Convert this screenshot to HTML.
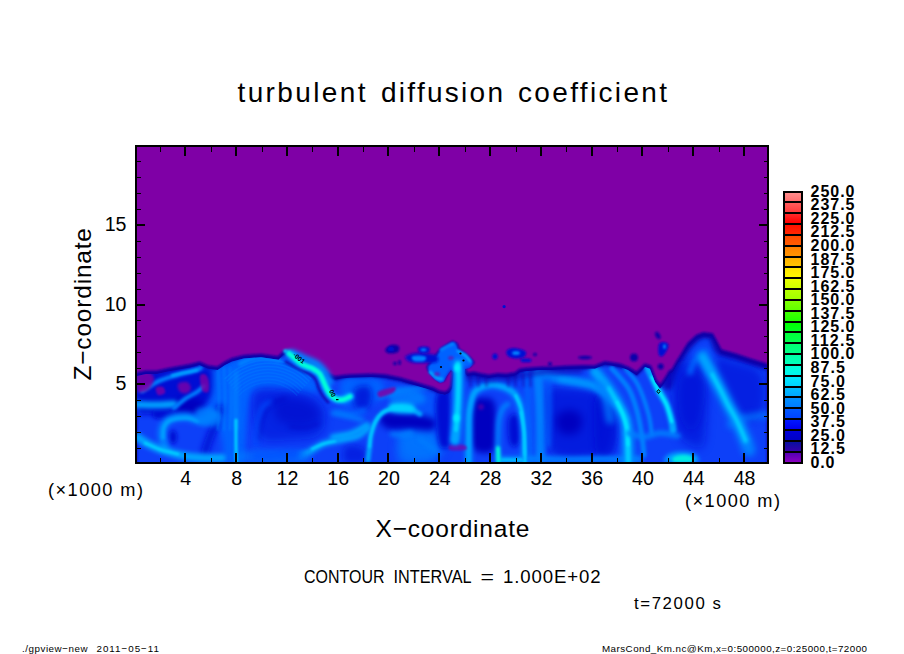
<!DOCTYPE html><html><head><meta charset="utf-8"><style>html,body{margin:0;padding:0;background:#fff;}svg{display:block}text{font-family:"Liberation Sans",sans-serif;fill:#000}</style></head><body>
<svg width="904" height="654" viewBox="0 0 904 654">
<rect x="0" y="0" width="904" height="654" fill="#fff"/>
<rect x="137" y="147" width="630" height="315" fill="#7f00a6"/>
<g id="turb">
<defs>
<filter id="b0_6" filterUnits="userSpaceOnUse" x="0" y="0" width="904" height="654"><feGaussianBlur stdDeviation="0.6"/></filter>
<filter id="b0_7" filterUnits="userSpaceOnUse" x="0" y="0" width="904" height="654"><feGaussianBlur stdDeviation="0.7"/></filter>
<filter id="b0_8" filterUnits="userSpaceOnUse" x="0" y="0" width="904" height="654"><feGaussianBlur stdDeviation="0.8"/></filter>
<filter id="b1" filterUnits="userSpaceOnUse" x="0" y="0" width="904" height="654"><feGaussianBlur stdDeviation="1"/></filter>
<filter id="b1_2" filterUnits="userSpaceOnUse" x="0" y="0" width="904" height="654"><feGaussianBlur stdDeviation="1.2"/></filter>
<filter id="b1_5" filterUnits="userSpaceOnUse" x="0" y="0" width="904" height="654"><feGaussianBlur stdDeviation="1.5"/></filter>
<filter id="b1_8" filterUnits="userSpaceOnUse" x="0" y="0" width="904" height="654"><feGaussianBlur stdDeviation="1.8"/></filter>
<filter id="b2" filterUnits="userSpaceOnUse" x="0" y="0" width="904" height="654"><feGaussianBlur stdDeviation="2"/></filter>
<filter id="b2_2" filterUnits="userSpaceOnUse" x="0" y="0" width="904" height="654"><feGaussianBlur stdDeviation="2.2"/></filter>
<filter id="b2_5" filterUnits="userSpaceOnUse" x="0" y="0" width="904" height="654"><feGaussianBlur stdDeviation="2.5"/></filter>
<filter id="b3" filterUnits="userSpaceOnUse" x="0" y="0" width="904" height="654"><feGaussianBlur stdDeviation="3"/></filter>
<filter id="b4" filterUnits="userSpaceOnUse" x="0" y="0" width="904" height="654"><feGaussianBlur stdDeviation="4"/></filter>
<filter id="b5" filterUnits="userSpaceOnUse" x="0" y="0" width="904" height="654"><feGaussianBlur stdDeviation="5"/></filter>
<clipPath id="pc"><rect x="137" y="147" width="630" height="315"/></clipPath>
<clipPath id="rc"><path d="M137.0,374.0 L146.0,372.0 L157.0,372.0 L168.0,369.5 L179.0,367.5 L190.0,365.5 L199.5,363.0 L208.0,366.8 L217.7,368.0 L225.0,363.0 L232.0,359.5 L243.7,356.5 L261.0,355.2 L278.6,357.8 L283.0,353.0 L286.0,352.0 L292.0,354.0 L298.0,357.0 L305.0,360.0 L312.0,364.0 L318.0,368.0 L323.0,372.0 L329.0,375.5 L335.0,377.5 L342.0,376.5 L349.4,375.8 L371.0,375.0 L385.3,375.8 L399.7,378.6 L414.0,383.0 L424.0,386.0 L432.5,388.5 L438.5,391.6 L445.0,393.0 L449.0,391.0 L452.0,386.0 L453.6,370.0 L450.9,368.0 L446.3,374.4 L443.5,380.0 L439.9,380.9 L434.4,377.2 L429.8,371.7 L428.0,367.0 L430.7,363.4 L437.0,355.0 L441.7,348.8 L448.0,345.0 L452.7,342.3 L456.4,344.2 L458.2,349.7 L463.7,353.3 L469.2,358.0 L472.9,362.5 L469.2,366.2 L465.0,367.0 L465.5,372.0 L467.4,374.0 L473.8,373.0 L480.2,374.5 L488.8,376.0 L497.7,374.5 L506.5,375.0 L515.4,373.6 L520.0,370.0 L528.0,369.0 L536.0,368.5 L544.0,368.0 L551.8,368.0 L567.0,367.0 L583.6,366.4 L595.0,366.7 L605.0,362.5 L620.0,365.0 L628.0,368.0 L636.7,373.3 L642.0,368.0 L645.0,365.0 L650.0,366.7 L655.0,380.0 L660.0,386.7 L665.0,380.0 L670.0,371.7 L673.0,370.0 L677.4,362.0 L683.0,353.0 L688.5,344.0 L697.0,336.0 L703.5,333.5 L712.0,334.6 L716.0,342.0 L720.6,350.7 L735.6,355.0 L750.5,360.0 L767.0,365.0 L767.0,462.0 L137.0,462.0Z" transform="translate(0,2)"/></clipPath>
</defs>
<g clip-path="url(#pc)">
<path d="M137.0,374.0 L146.0,372.0 L157.0,372.0 L168.0,369.5 L179.0,367.5 L190.0,365.5 L199.5,363.0 L208.0,366.8 L217.7,368.0 L225.0,363.0 L232.0,359.5 L243.7,356.5 L261.0,355.2 L278.6,357.8 L283.0,353.0 L286.0,352.0 L292.0,354.0 L298.0,357.0 L305.0,360.0 L312.0,364.0 L318.0,368.0 L323.0,372.0 L329.0,375.5 L335.0,377.5 L342.0,376.5 L349.4,375.8 L371.0,375.0 L385.3,375.8 L399.7,378.6 L414.0,383.0 L424.0,386.0 L432.5,388.5 L438.5,391.6 L445.0,393.0 L449.0,391.0 L452.0,386.0 L453.6,370.0 L450.9,368.0 L446.3,374.4 L443.5,380.0 L439.9,380.9 L434.4,377.2 L429.8,371.7 L428.0,367.0 L430.7,363.4 L437.0,355.0 L441.7,348.8 L448.0,345.0 L452.7,342.3 L456.4,344.2 L458.2,349.7 L463.7,353.3 L469.2,358.0 L472.9,362.5 L469.2,366.2 L465.0,367.0 L465.5,372.0 L467.4,374.0 L473.8,373.0 L480.2,374.5 L488.8,376.0 L497.7,374.5 L506.5,375.0 L515.4,373.6 L520.0,370.0 L528.0,369.0 L536.0,368.5 L544.0,368.0 L551.8,368.0 L567.0,367.0 L583.6,366.4 L595.0,366.7 L605.0,362.5 L620.0,365.0 L628.0,368.0 L636.7,373.3 L642.0,368.0 L645.0,365.0 L650.0,366.7 L655.0,380.0 L660.0,386.7 L665.0,380.0 L670.0,371.7 L673.0,370.0 L677.4,362.0 L683.0,353.0 L688.5,344.0 L697.0,336.0 L703.5,333.5 L712.0,334.6 L716.0,342.0 L720.6,350.7 L735.6,355.0 L750.5,360.0 L767.0,365.0 L767.0,462.0 L137.0,462.0Z" fill="#1000aa" stroke="#1000aa" stroke-width="3" filter="url(#b1)"/>
<g clip-path="url(#rc)">
<path d="M137.0,374.0 L146.0,372.0 L157.0,372.0 L168.0,369.5 L179.0,367.5 L190.0,365.5 L199.5,363.0 L208.0,366.8 L217.7,368.0 L225.0,363.0 L232.0,359.5 L243.7,356.5 L261.0,355.2 L278.6,357.8 L283.0,353.0 L286.0,352.0 L292.0,354.0 L298.0,357.0 L305.0,360.0 L312.0,364.0 L318.0,368.0 L323.0,372.0 L329.0,375.5 L335.0,377.5 L342.0,376.5 L349.4,375.8 L371.0,375.0 L385.3,375.8 L399.7,378.6 L414.0,383.0 L424.0,386.0 L432.5,388.5 L438.5,391.6 L445.0,393.0 L449.0,391.0 L452.0,386.0 L453.6,370.0 L450.9,368.0 L446.3,374.4 L443.5,380.0 L439.9,380.9 L434.4,377.2 L429.8,371.7 L428.0,367.0 L430.7,363.4 L437.0,355.0 L441.7,348.8 L448.0,345.0 L452.7,342.3 L456.4,344.2 L458.2,349.7 L463.7,353.3 L469.2,358.0 L472.9,362.5 L469.2,366.2 L465.0,367.0 L465.5,372.0 L467.4,374.0 L473.8,373.0 L480.2,374.5 L488.8,376.0 L497.7,374.5 L506.5,375.0 L515.4,373.6 L520.0,370.0 L528.0,369.0 L536.0,368.5 L544.0,368.0 L551.8,368.0 L567.0,367.0 L583.6,366.4 L595.0,366.7 L605.0,362.5 L620.0,365.0 L628.0,368.0 L636.7,373.3 L642.0,368.0 L645.0,365.0 L650.0,366.7 L655.0,380.0 L660.0,386.7 L665.0,380.0 L670.0,371.7 L673.0,370.0 L677.4,362.0 L683.0,353.0 L688.5,344.0 L697.0,336.0 L703.5,333.5 L712.0,334.6 L716.0,342.0 L720.6,350.7 L735.6,355.0 L750.5,360.0 L767.0,365.0 L767.0,462.0 L137.0,462.0Z" fill="#0840f8" transform="translate(0,3)" filter="url(#b1_5)"/>
<path d="M137.0,372.0 C140.8,365.5 149.5,371.8 160.0,371.0 C170.5,370.2 191.0,367.0 200.0,367.0 C209.0,367.0 211.0,368.0 214.0,371.0 C217.0,374.0 218.3,380.2 218.0,385.0 C217.7,389.8 215.8,395.8 212.0,400.0 C208.2,404.2 201.2,407.3 195.0,410.0 C188.8,412.7 182.5,415.3 175.0,416.0 C167.5,416.7 156.3,415.0 150.0,414.0 C143.7,413.0 139.2,417.0 137.0,410.0 C134.8,403.0 133.2,378.5 137.0,372.0Z" fill="#0010d4" filter="url(#b3)"/>
<path d="M214.0,370.0 C216.2,364.5 220.7,363.8 225.0,362.0 C229.3,360.2 235.8,358.5 240.0,359.0 C244.2,359.5 249.2,354.8 250.0,365.0 C250.8,375.2 246.7,403.8 245.0,420.0 C243.3,436.2 243.3,455.0 240.0,462.0 C236.7,469.0 228.0,465.7 225.0,462.0 C222.0,458.3 223.7,446.2 222.0,440.0 C220.3,433.8 217.8,429.2 215.0,425.0 C212.2,420.8 205.5,420.0 205.0,415.0 C204.5,410.0 210.5,402.5 212.0,395.0 C213.5,387.5 211.8,375.5 214.0,370.0Z" fill="#0062ff" filter="url(#b3)"/>
<path d="M238.0,362.0 C240.3,351.5 245.5,358.0 250.0,357.0 C254.5,356.0 260.0,355.7 265.0,356.0 C270.0,356.3 274.2,357.3 280.0,359.0 C285.8,360.7 294.7,362.8 300.0,366.0 C305.3,369.2 309.0,373.7 312.0,378.0 C315.0,382.3 320.0,389.7 318.0,392.0 C316.0,394.3 306.3,392.7 300.0,392.0 C293.7,391.3 286.7,388.5 280.0,388.0 C273.3,387.5 265.0,387.8 260.0,389.0 C255.0,390.2 252.5,389.8 250.0,395.0 C247.5,400.2 246.3,408.8 245.0,420.0 C243.7,431.2 243.5,455.0 242.0,462.0 C240.5,469.0 237.0,469.0 236.0,462.0 C235.0,455.0 235.7,436.7 236.0,420.0 C236.3,403.3 235.7,372.5 238.0,362.0Z" fill="#0062ff" filter="url(#b3)"/>
<path d="M342.0,380.0 C345.0,375.7 353.7,378.0 360.0,378.0 C366.3,378.0 376.2,377.7 380.0,380.0 C383.8,382.3 384.3,388.0 383.0,392.0 C381.7,396.0 376.7,401.7 372.0,404.0 C367.3,406.3 360.0,406.0 355.0,406.0 C350.0,406.0 344.2,408.3 342.0,404.0 C339.8,399.7 339.0,384.3 342.0,380.0Z" fill="#0062ff" filter="url(#b3)"/>
<path d="M410.0,392.0 C416.7,386.0 433.7,392.7 440.0,394.0 C446.3,395.3 446.8,392.3 448.0,400.0 C449.2,407.7 448.3,430.8 447.0,440.0 C445.7,449.2 446.2,452.5 440.0,455.0 C433.8,457.5 416.7,459.2 410.0,455.0 C403.3,450.8 400.0,440.5 400.0,430.0 C400.0,419.5 403.3,398.0 410.0,392.0Z" fill="#0062ff" filter="url(#b4)" opacity="0.6"/>
<path d="M400.0,432.0 C403.3,426.7 413.8,429.3 420.0,430.0 C426.2,430.7 433.7,432.7 437.0,436.0 C440.3,439.3 440.8,445.7 440.0,450.0 C439.2,454.3 438.7,460.0 432.0,462.0 C425.3,464.0 405.3,467.0 400.0,462.0 C394.7,457.0 396.7,437.3 400.0,432.0Z" fill="#0080ff" filter="url(#b4)" opacity="0.7"/>
<path d="M547.0,392.0 C550.8,383.3 561.2,388.0 570.0,388.0 C578.8,388.0 593.0,389.2 600.0,392.0 C607.0,394.8 610.0,397.0 612.0,405.0 C614.0,413.0 614.0,431.5 612.0,440.0 C610.0,448.5 608.7,453.0 600.0,456.0 C591.3,459.0 568.8,460.7 560.0,458.0 C551.2,455.3 549.2,451.0 547.0,440.0 C544.8,429.0 543.2,400.7 547.0,392.0Z" fill="#0010d4" filter="url(#b5)" opacity="0.7"/>
<path d="M668.0,385.0 C669.0,382.2 671.7,373.3 674.0,368.0 C676.3,362.7 679.6,357.0 682.0,353.0 C684.4,349.0 686.0,346.8 688.5,344.0 C691.0,341.2 694.5,337.8 697.0,336.0 C699.5,334.2 701.0,333.7 703.5,333.5 C706.0,333.3 709.9,333.2 712.0,334.6 C714.1,336.0 714.6,339.3 716.0,342.0 C717.4,344.7 717.3,348.5 720.6,350.7 C723.9,352.9 730.6,353.4 735.6,355.0 C740.6,356.6 745.3,358.3 750.5,360.0 C755.7,361.7 764.2,364.2 767.0,365.0" fill="none" stroke="#1000aa" stroke-width="10" stroke-linecap="round" stroke-linejoin="round" filter="url(#b2)" opacity="0.8"/>
<path d="M175.0,400.0 C177.3,398.0 185.3,397.7 190.0,398.0 C194.7,398.3 201.3,399.7 203.0,402.0 C204.7,404.3 203.0,410.0 200.0,412.0 C197.0,414.0 189.0,414.3 185.0,414.0 C181.0,413.7 177.7,412.3 176.0,410.0 C174.3,407.7 172.7,402.0 175.0,400.0Z" fill="#0000c0" filter="url(#b3)"/>
<path d="M153.0,411.0 C154.7,409.7 161.0,409.7 165.0,410.0 C169.0,410.3 176.2,411.7 177.0,413.0 C177.8,414.3 173.7,417.2 170.0,418.0 C166.3,418.8 157.8,419.2 155.0,418.0 C152.2,416.8 151.3,412.3 153.0,411.0Z" fill="#0010d4" filter="url(#b2)"/>
<ellipse cx="173" cy="437" rx="4" ry="7" fill="#0010d4" filter="url(#b2)"/>
<path d="M220.0,408.0 C219.2,410.8 216.8,419.7 215.0,425.0 C213.2,430.3 210.7,435.5 209.0,440.0 C207.3,444.5 205.7,450.0 205.0,452.0" fill="none" stroke="#0010d4" stroke-width="7" stroke-linecap="round" stroke-linejoin="round" filter="url(#b3)"/>
<path d="M255.0,392.0 C259.2,386.2 271.7,389.8 280.0,390.0 C288.3,390.2 298.0,390.5 305.0,393.0 C312.0,395.5 318.7,399.7 322.0,405.0 C325.3,410.3 326.2,419.7 325.0,425.0 C323.8,430.3 320.8,434.5 315.0,437.0 C309.2,439.5 298.3,439.5 290.0,440.0 C281.7,440.5 270.8,442.5 265.0,440.0 C259.2,437.5 256.7,433.0 255.0,425.0 C253.3,417.0 250.8,397.8 255.0,392.0Z" fill="#0010d4" filter="url(#b4)" opacity="0.55"/>
<path d="M275.0,400.0 C277.8,396.3 288.3,397.0 295.0,398.0 C301.7,399.0 311.2,402.3 315.0,406.0 C318.8,409.7 320.5,416.7 318.0,420.0 C315.5,423.3 306.7,426.0 300.0,426.0 C293.3,426.0 282.2,424.3 278.0,420.0 C273.8,415.7 272.2,403.7 275.0,400.0Z" fill="#0000c0" filter="url(#b4)" opacity="0.45"/>
<path d="M258.0,440.0 C258.7,436.7 260.0,425.8 262.0,420.0 C264.0,414.2 266.2,408.7 270.0,405.0 C273.8,401.3 282.5,399.2 285.0,398.0" fill="none" stroke="#0000c0" stroke-width="3" stroke-linecap="round" stroke-linejoin="round" filter="url(#b2)" opacity="0.5"/>
<path d="M290.0,427.0 C292.5,427.2 300.3,428.5 305.0,428.0 C309.7,427.5 315.8,424.7 318.0,424.0" fill="none" stroke="#0000c0" stroke-width="3" stroke-linecap="round" stroke-linejoin="round" filter="url(#b2)" opacity="0.5"/>
<path d="M356.0,388.0 C358.5,385.7 365.3,384.7 368.0,386.0 C370.7,387.3 372.0,392.3 372.0,396.0 C372.0,399.7 370.3,405.7 368.0,408.0 C365.7,410.3 360.5,411.3 358.0,410.0 C355.5,408.7 353.3,403.7 353.0,400.0 C352.7,396.3 353.5,390.3 356.0,388.0Z" fill="#0010d4" filter="url(#b3)" opacity="0.8"/>
<path d="M380.0,414.0 C383.2,411.7 397.5,413.7 405.0,414.0 C412.5,414.3 419.8,414.8 425.0,416.0 C430.2,417.2 434.8,418.7 436.0,421.0 C437.2,423.3 436.3,428.7 432.0,430.0 C427.7,431.3 417.7,429.3 410.0,429.0 C402.3,428.7 391.0,430.5 386.0,428.0 C381.0,425.5 376.8,416.3 380.0,414.0Z" fill="#0000c0" filter="url(#b3)"/>
<path d="M345.0,447.0 C347.2,444.3 354.5,445.2 358.0,446.0 C361.5,446.8 365.0,449.3 366.0,452.0 C367.0,454.7 367.5,460.3 364.0,462.0 C360.5,463.7 348.2,464.5 345.0,462.0 C341.8,459.5 342.8,449.7 345.0,447.0Z" fill="#0010d4" filter="url(#b3)" opacity="0.6"/>
<path d="M437.0,395.0 C439.2,390.3 446.7,387.8 449.0,392.0 C451.3,396.2 450.8,411.2 451.0,420.0 C451.2,428.8 451.8,440.7 450.0,445.0 C448.2,449.3 442.3,450.2 440.0,446.0 C437.7,441.8 436.5,428.5 436.0,420.0 C435.5,411.5 434.8,399.7 437.0,395.0Z" fill="#0010d4" filter="url(#b2_5)"/>
<path d="M470.0,402.0 C472.0,395.0 478.0,398.0 482.0,398.0 C486.0,398.0 491.7,396.7 494.0,402.0 C496.3,407.3 496.0,422.0 496.0,430.0 C496.0,438.0 497.0,446.3 494.0,450.0 C491.0,453.7 482.0,453.7 478.0,452.0 C474.0,450.3 471.3,448.3 470.0,440.0 C468.7,431.7 468.0,409.0 470.0,402.0Z" fill="#0000c0" filter="url(#b3)"/>
<path d="M509.0,418.0 C510.5,414.0 516.2,412.3 518.0,416.0 C519.8,419.7 520.7,434.8 520.0,440.0 C519.3,445.2 515.8,447.0 514.0,447.0 C512.2,447.0 509.8,444.8 509.0,440.0 C508.2,435.2 507.5,422.0 509.0,418.0Z" fill="#0010d4" filter="url(#b2_5)"/>
<path d="M558.0,414.0 C560.7,411.7 568.0,409.3 572.0,410.0 C576.0,410.7 581.0,414.3 582.0,418.0 C583.0,421.7 581.2,429.3 578.0,432.0 C574.8,434.7 566.7,435.3 563.0,434.0 C559.3,432.7 556.8,427.3 556.0,424.0 C555.2,420.7 555.3,416.3 558.0,414.0Z" fill="#0000c0" filter="url(#b4)"/>
<path d="M595.0,400.0 C597.5,390.5 608.2,393.0 612.0,398.0 C615.8,403.0 618.0,420.5 618.0,430.0 C618.0,439.5 615.5,450.8 612.0,455.0 C608.5,459.2 599.8,464.2 597.0,455.0 C594.2,445.8 592.5,409.5 595.0,400.0Z" fill="#0010d4" filter="url(#b3)" opacity="0.7"/>
<path d="M672.0,368.0 C675.0,361.3 684.5,360.5 690.0,360.0 C695.5,359.5 702.5,351.7 705.0,365.0 C707.5,378.3 707.5,426.7 705.0,440.0 C702.5,453.3 695.0,446.7 690.0,445.0 C685.0,443.3 678.0,437.5 675.0,430.0 C672.0,422.5 672.5,410.3 672.0,400.0 C671.5,389.7 669.0,374.7 672.0,368.0Z" fill="#0010d4" filter="url(#b5)" opacity="0.6"/>
<path d="M715.0,360.0 C717.5,353.7 727.5,360.0 735.0,362.0 C742.5,364.0 755.0,365.7 760.0,372.0 C765.0,378.3 765.8,392.0 765.0,400.0 C764.2,408.0 760.0,417.5 755.0,420.0 C750.0,422.5 740.8,418.3 735.0,415.0 C729.2,411.7 723.3,409.2 720.0,400.0 C716.7,390.8 712.5,366.3 715.0,360.0Z" fill="#0010d4" filter="url(#b4)" opacity="0.6"/>
<path d="M680.0,380.0 C682.5,372.8 690.8,371.2 695.0,372.0 C699.2,372.8 704.2,377.0 705.0,385.0 C705.8,393.0 702.5,412.5 700.0,420.0 C697.5,427.5 693.3,430.8 690.0,430.0 C686.7,429.2 681.7,423.3 680.0,415.0 C678.3,406.7 677.5,387.2 680.0,380.0Z" fill="#0010d4" filter="url(#b4)" opacity="0.5"/>
<path d="M142.0,391.0 C144.8,389.3 153.1,383.7 159.0,381.0 C164.9,378.3 171.4,376.8 177.6,375.0 C183.8,373.2 192.2,371.6 196.0,370.4 C199.8,369.2 199.9,368.4 200.7,368.0" fill="none" stroke="#0080ff" stroke-width="4.5" stroke-linecap="round" stroke-linejoin="round" filter="url(#b1_5)"/>
<path d="M172.0,375.5 C174.2,375.0 180.8,373.4 185.0,372.5 C189.2,371.6 195.0,370.4 197.0,370.0" fill="none" stroke="#00a4ff" stroke-width="2.5" stroke-linecap="round" stroke-linejoin="round" filter="url(#b1)"/>
<path d="M137.0,404.5 C138.8,404.6 144.2,404.9 148.0,405.0 C151.8,405.1 155.7,405.2 160.0,405.0 C164.3,404.8 171.7,404.2 174.0,404.0" fill="none" stroke="#00a4ff" stroke-width="7" stroke-linecap="round" stroke-linejoin="round" filter="url(#b2)"/>
<path d="M174.0,408.0 C175.8,406.5 181.2,401.7 185.0,399.0 C188.8,396.3 193.8,394.2 197.0,392.0 C200.2,389.8 202.8,387.0 204.0,386.0" fill="none" stroke="#0080ff" stroke-width="4" stroke-linecap="round" stroke-linejoin="round" filter="url(#b1_5)"/>
<path d="M165.0,448.0 C164.5,445.8 162.2,438.8 162.0,435.0 C161.8,431.2 162.5,427.8 164.0,425.0 C165.5,422.2 167.2,419.9 171.0,418.5 C174.8,417.1 181.8,416.2 186.7,416.5 C191.6,416.8 196.0,420.8 200.6,420.5 C205.2,420.2 212.2,415.9 214.5,415.0" fill="none" stroke="#0080ff" stroke-width="8" stroke-linecap="round" stroke-linejoin="round" filter="url(#b2_5)"/>
<path d="M163.0,438.0 C163.2,436.2 162.7,430.0 164.0,427.0 C165.3,424.0 167.2,421.5 171.0,420.0 C174.8,418.5 182.2,417.8 186.7,418.0 C191.2,418.2 196.1,420.5 198.0,421.0" fill="none" stroke="#00a4ff" stroke-width="3.5" stroke-linecap="round" stroke-linejoin="round" filter="url(#b1_5)"/>
<path d="M137.0,437.0 C139.2,438.3 145.3,442.7 150.0,445.0 C154.7,447.3 159.2,449.2 165.0,451.0 C170.8,452.8 178.3,454.8 185.0,456.0 C191.7,457.2 198.8,457.7 205.0,458.0 C211.2,458.3 219.2,458.0 222.0,458.0" fill="none" stroke="#00a4ff" stroke-width="8" stroke-linecap="round" stroke-linejoin="round" filter="url(#b2)"/>
<path d="M145.0,443.0 C147.5,444.1 154.5,447.7 160.0,449.5 C165.5,451.3 175.0,453.2 178.0,454.0" fill="none" stroke="#00d0ff" stroke-width="2.5" stroke-linecap="round" stroke-linejoin="round" filter="url(#b1_2)"/>
<path d="M196.0,410.0 C198.0,407.3 207.7,406.7 212.0,408.0 C216.3,409.3 221.5,415.0 222.0,418.0 C222.5,421.0 218.7,425.0 215.0,426.0 C211.3,427.0 203.2,426.7 200.0,424.0 C196.8,421.3 194.0,412.7 196.0,410.0Z" fill="#0080ff" filter="url(#b2_5)" opacity="0.8"/>
<path d="M218.0,368.0 C218.2,373.3 219.0,389.7 219.0,400.0 C219.0,410.3 218.2,425.0 218.0,430.0" fill="none" stroke="#0080ff" stroke-width="2" stroke-linecap="round" stroke-linejoin="round" filter="url(#b1)" opacity="0.6"/>
<path d="M224.0,368.0 C224.2,373.3 225.0,389.7 225.0,400.0 C225.0,410.3 224.2,425.0 224.0,430.0" fill="none" stroke="#0080ff" stroke-width="2" stroke-linecap="round" stroke-linejoin="round" filter="url(#b1)" opacity="0.6"/>
<path d="M230.0,368.0 C230.2,373.3 231.0,389.7 231.0,400.0 C231.0,410.3 230.2,425.0 230.0,430.0" fill="none" stroke="#0080ff" stroke-width="2" stroke-linecap="round" stroke-linejoin="round" filter="url(#b1)" opacity="0.6"/>
<path d="M225.2,378.5 C226.4,377.4 230.0,374.0 232.6,372.0 C235.2,370.1 237.9,368.3 240.8,366.9 C243.6,365.4 246.5,364.1 249.5,363.1 C252.5,362.1 255.6,361.3 258.7,360.8 C261.7,360.3 264.9,360.0 268.0,360.0 C271.1,360.0 274.3,360.3 277.3,360.8 C280.4,361.3 283.5,362.1 286.5,363.1 C289.5,364.1 292.4,365.4 295.2,366.9 C298.1,368.3 300.8,370.1 303.4,372.0 C306.0,374.0 309.6,377.4 310.8,378.5" fill="none" stroke="#0080ff" stroke-width="1.5" stroke-linecap="round" stroke-linejoin="round" filter="url(#b0_7)" opacity="0.45"/>
<path d="M227.2,380.9 C228.4,379.8 231.8,376.5 234.2,374.7 C236.7,372.8 239.3,371.2 242.0,369.7 C244.7,368.3 247.5,367.1 250.4,366.1 C253.2,365.2 256.2,364.4 259.1,363.9 C262.0,363.4 265.0,363.2 268.0,363.2 C271.0,363.2 274.0,363.4 276.9,363.9 C279.8,364.4 282.8,365.2 285.6,366.1 C288.5,367.1 291.3,368.3 294.0,369.7 C296.7,371.2 299.3,372.8 301.8,374.7 C304.2,376.5 307.6,379.8 308.8,380.9" fill="none" stroke="#0080ff" stroke-width="1.5" stroke-linecap="round" stroke-linejoin="round" filter="url(#b0_7)" opacity="0.42000000000000004"/>
<path d="M229.2,383.2 C230.3,382.3 233.6,379.1 235.9,377.4 C238.3,375.6 240.7,374.0 243.3,372.6 C245.9,371.3 248.5,370.1 251.2,369.2 C253.9,368.3 256.7,367.6 259.5,367.1 C262.3,366.6 265.2,366.4 268.0,366.4 C270.8,366.4 273.7,366.6 276.5,367.1 C279.3,367.6 282.1,368.3 284.8,369.2 C287.5,370.1 290.1,371.3 292.7,372.6 C295.3,374.0 297.7,375.6 300.1,377.4 C302.4,379.1 305.7,382.3 306.8,383.2" fill="none" stroke="#0080ff" stroke-width="1.5" stroke-linecap="round" stroke-linejoin="round" filter="url(#b0_7)" opacity="0.39"/>
<path d="M231.2,385.6 C232.3,384.7 235.3,381.7 237.6,380.0 C239.8,378.3 242.2,376.8 244.6,375.5 C247.0,374.2 249.5,373.1 252.1,372.3 C254.7,371.4 257.3,370.7 260.0,370.3 C262.6,369.8 265.3,369.6 268.0,369.6 C270.7,369.6 273.4,369.8 276.0,370.3 C278.7,370.7 281.3,371.4 283.9,372.3 C286.5,373.1 289.0,374.2 291.4,375.5 C293.8,376.8 296.2,378.3 298.4,380.0 C300.7,381.7 303.7,384.7 304.8,385.6" fill="none" stroke="#0080ff" stroke-width="1.5" stroke-linecap="round" stroke-linejoin="round" filter="url(#b0_7)" opacity="0.36"/>
<path d="M233.2,388.0 C234.2,387.1 237.1,384.3 239.2,382.7 C241.3,381.1 243.6,379.7 245.9,378.4 C248.2,377.2 250.5,376.2 253.0,375.3 C255.4,374.5 257.9,373.9 260.4,373.4 C262.9,373.0 265.5,372.8 268.0,372.8 C270.5,372.8 273.1,373.0 275.6,373.4 C278.1,373.9 280.6,374.5 283.0,375.3 C285.5,376.2 287.8,377.2 290.1,378.4 C292.4,379.7 294.7,381.1 296.8,382.7 C298.9,384.3 301.8,387.1 302.8,388.0" fill="none" stroke="#0080ff" stroke-width="1.5" stroke-linecap="round" stroke-linejoin="round" filter="url(#b0_7)" opacity="0.33"/>
<path d="M235.2,390.4 C236.2,389.5 238.9,386.9 240.9,385.4 C242.9,383.8 245.0,382.5 247.1,381.3 C249.3,380.2 251.6,379.2 253.8,378.4 C256.1,377.6 258.5,377.0 260.8,376.6 C263.2,376.2 265.6,376.0 268.0,376.0 C270.4,376.0 272.8,376.2 275.2,376.6 C277.5,377.0 279.9,377.6 282.2,378.4 C284.4,379.2 286.7,380.2 288.9,381.3 C291.0,382.5 293.1,383.8 295.1,385.4 C297.1,386.9 299.8,389.5 300.8,390.4" fill="none" stroke="#0080ff" stroke-width="1.5" stroke-linecap="round" stroke-linejoin="round" filter="url(#b0_7)" opacity="0.30000000000000004"/>
<path d="M237.2,392.8 C238.1,392.0 240.7,389.4 242.5,388.0 C244.4,386.6 246.4,385.3 248.4,384.2 C250.4,383.1 252.6,382.2 254.7,381.5 C256.8,380.7 259.1,380.1 261.3,379.8 C263.5,379.4 265.8,379.2 268.0,379.2 C270.2,379.2 272.5,379.4 274.7,379.8 C276.9,380.1 279.2,380.7 281.3,381.5 C283.4,382.2 285.6,383.1 287.6,384.2 C289.6,385.3 291.6,386.6 293.5,388.0 C295.3,389.4 297.9,392.0 298.8,392.8" fill="none" stroke="#0080ff" stroke-width="1.5" stroke-linecap="round" stroke-linejoin="round" filter="url(#b0_7)" opacity="0.27"/>
<path d="M239.2,395.1 C240.1,394.4 242.5,392.0 244.2,390.7 C245.9,389.4 247.8,388.1 249.7,387.1 C251.6,386.1 253.6,385.2 255.6,384.5 C257.6,383.8 259.6,383.3 261.7,382.9 C263.8,382.6 265.9,382.4 268.0,382.4 C270.1,382.4 272.2,382.6 274.3,382.9 C276.4,383.3 278.4,383.8 280.4,384.5 C282.4,385.2 284.4,386.1 286.3,387.1 C288.2,388.1 290.1,389.4 291.8,390.7 C293.5,392.0 295.9,394.4 296.8,395.1" fill="none" stroke="#0080ff" stroke-width="1.5" stroke-linecap="round" stroke-linejoin="round" filter="url(#b0_7)" opacity="0.24000000000000002"/>
<path d="M256.0,446.0 C256.2,442.5 256.0,431.3 257.0,425.0 C258.0,418.7 259.8,411.8 262.0,408.0 C264.2,404.2 268.7,403.0 270.0,402.0" fill="none" stroke="#0050ff" stroke-width="4" stroke-linecap="round" stroke-linejoin="round" filter="url(#b2_5)" opacity="0.8"/>
<path d="M300.0,455.0 C301.5,454.5 305.2,453.8 309.0,452.0 C312.8,450.2 317.8,446.0 323.0,444.0 C328.2,442.0 334.2,441.3 340.0,440.0 C345.8,438.7 353.3,438.0 358.0,436.0 C362.7,434.0 366.3,429.3 368.0,428.0" fill="none" stroke="#00a4ff" stroke-width="6" stroke-linecap="round" stroke-linejoin="round" filter="url(#b2)"/>
<path d="M312.0,449.0 C313.8,448.2 319.2,445.3 323.0,444.0 C326.8,442.7 333.0,441.5 335.0,441.0" fill="none" stroke="#00d0ff" stroke-width="2.5" stroke-linecap="round" stroke-linejoin="round" filter="url(#b1_2)"/>
<path d="M240.0,452.0 C245.0,450.2 259.2,450.8 270.0,451.0 C280.8,451.2 299.2,451.2 305.0,453.0 C310.8,454.8 315.8,460.5 305.0,462.0 C294.2,463.5 250.8,463.7 240.0,462.0 C229.2,460.3 235.0,453.8 240.0,452.0Z" fill="#0080ff" filter="url(#b3)" opacity="0.6"/>
<path d="M255.0,456.0 C259.2,455.8 272.5,455.3 280.0,455.0 C287.5,454.7 296.7,454.2 300.0,454.0" fill="none" stroke="#0050ff" stroke-width="6" stroke-linecap="round" stroke-linejoin="round" filter="url(#b3)"/>
<path d="M389.0,390.0 C391.2,387.5 399.7,387.7 405.0,388.0 C410.3,388.3 417.7,389.7 421.0,392.0 C424.3,394.3 426.8,399.8 425.0,402.0 C423.2,404.2 415.5,404.8 410.0,405.0 C404.5,405.2 395.5,405.5 392.0,403.0 C388.5,400.5 386.8,392.5 389.0,390.0Z" fill="#0080ff" filter="url(#b2_5)" opacity="0.8"/>
<path d="M380.0,397.0 C382.5,396.2 389.7,393.3 395.0,392.0 C400.3,390.7 406.5,389.8 412.0,389.0 C417.5,388.2 425.3,387.3 428.0,387.0" fill="none" stroke="#0080ff" stroke-width="4" stroke-linecap="round" stroke-linejoin="round" filter="url(#b2)"/>
<path d="M337.0,412.0 C339.2,412.3 345.5,414.2 350.0,414.0 C354.5,413.8 361.7,411.5 364.0,411.0" fill="none" stroke="#0062ff" stroke-width="6" stroke-linecap="round" stroke-linejoin="round" filter="url(#b2_5)"/>
<path d="M333.0,437.0 C335.0,436.7 341.3,435.8 345.0,435.0 C348.7,434.2 351.3,433.7 355.0,432.0 C358.7,430.3 365.0,426.2 367.0,425.0" fill="none" stroke="#00a4ff" stroke-width="6" stroke-linecap="round" stroke-linejoin="round" filter="url(#b2)"/>
<path d="M333.0,413.0 C335.5,413.5 343.2,414.8 348.0,416.0 C352.8,417.2 359.7,419.3 362.0,420.0" fill="none" stroke="#0080ff" stroke-width="5" stroke-linecap="round" stroke-linejoin="round" filter="url(#b2)" opacity="0.8"/>
<path d="M392.0,434.0 C393.7,434.2 398.8,435.2 402.0,435.0 C405.2,434.8 409.5,433.3 411.0,433.0" fill="none" stroke="#0080ff" stroke-width="5" stroke-linecap="round" stroke-linejoin="round" filter="url(#b2)" opacity="0.8"/>
<path d="M420.0,440.0 C421.3,440.8 425.3,443.0 428.0,445.0 C430.7,447.0 434.7,450.8 436.0,452.0" fill="none" stroke="#0080ff" stroke-width="4" stroke-linecap="round" stroke-linejoin="round" filter="url(#b2)" opacity="0.7"/>
<path d="M468.7,462.0 C468.7,456.7 468.6,438.7 468.7,430.0 C468.8,421.3 468.5,416.3 469.5,410.0 C470.5,403.7 471.4,396.2 474.8,392.0 C478.2,387.8 485.0,385.7 490.0,385.0 C495.0,384.3 500.7,386.0 505.0,387.7 C509.3,389.4 512.8,391.5 515.6,395.3 C518.4,399.1 520.2,404.1 521.7,410.4 C523.2,416.7 524.2,424.4 524.7,433.0 C525.2,441.6 524.7,457.2 524.7,462.0" fill="none" stroke="#0080ff" stroke-width="8" stroke-linecap="round" stroke-linejoin="round" filter="url(#b2)"/>
<path d="M468.7,462.0 C468.7,456.7 468.6,438.7 468.7,430.0 C468.8,421.3 468.5,416.3 469.5,410.0 C470.5,403.7 471.4,396.2 474.8,392.0 C478.2,387.8 485.0,385.7 490.0,385.0 C495.0,384.3 500.7,386.0 505.0,387.7 C509.3,389.4 512.8,391.5 515.6,395.3 C518.4,399.1 520.2,404.1 521.7,410.4 C523.2,416.7 524.2,424.4 524.7,433.0 C525.2,441.6 524.7,457.2 524.7,462.0" fill="none" stroke="#00a4ff" stroke-width="4" stroke-linecap="round" stroke-linejoin="round" filter="url(#b1_5)"/>
<path d="M515.6,395.3 C516.6,397.8 520.2,404.1 521.7,410.4 C523.2,416.7 524.2,424.4 524.7,433.0 C525.2,441.6 524.7,457.2 524.7,462.0" fill="none" stroke="#00d0ff" stroke-width="2.5" stroke-linecap="round" stroke-linejoin="round" filter="url(#b1)"/>
<path d="M498.0,462.0 C498.0,458.3 497.8,447.0 498.0,440.0 C498.2,433.0 498.2,425.3 499.0,420.0 C499.8,414.7 501.5,410.7 503.0,408.0 C504.5,405.3 507.2,404.7 508.0,404.0" fill="none" stroke="#0080ff" stroke-width="5" stroke-linecap="round" stroke-linejoin="round" filter="url(#b2)"/>
<path d="M527.0,372.0 C527.2,376.7 527.7,390.3 528.0,400.0 C528.3,409.7 528.7,419.7 529.0,430.0 C529.3,440.3 529.8,456.7 530.0,462.0" fill="none" stroke="#0062ff" stroke-width="6" stroke-linecap="round" stroke-linejoin="round" filter="url(#b2_5)"/>
<path d="M540.0,372.0 C540.2,378.3 540.8,395.0 541.0,410.0 C541.2,425.0 541.0,453.3 541.0,462.0" fill="none" stroke="#0080ff" stroke-width="5" stroke-linecap="round" stroke-linejoin="round" filter="url(#b2_5)" opacity="0.8"/>
<path d="M545.0,375.0 C547.5,375.7 554.8,377.9 560.0,379.0 C565.2,380.1 570.7,380.7 576.0,381.7 C581.3,382.7 587.0,383.3 592.0,385.0 C597.0,386.7 602.2,389.2 606.0,392.0 C609.8,394.8 613.5,400.3 615.0,402.0" fill="none" stroke="#0080ff" stroke-width="10" stroke-linecap="round" stroke-linejoin="round" filter="url(#b2_5)"/>
<path d="M560.0,379.0 C562.7,379.4 570.7,380.7 576.0,381.7 C581.3,382.7 587.0,383.3 592.0,385.0 C597.0,386.7 602.2,389.2 606.0,392.0 C609.8,394.8 613.5,400.3 615.0,402.0" fill="none" stroke="#00a4ff" stroke-width="4" stroke-linecap="round" stroke-linejoin="round" filter="url(#b2)" opacity="0.7"/>
<path d="M617.0,400.0 C618.0,401.7 621.3,406.7 623.0,410.0 C624.7,413.3 626.3,418.3 627.0,420.0" fill="none" stroke="#00d0ff" stroke-width="4" stroke-linecap="round" stroke-linejoin="round" filter="url(#b1_5)"/>
<path d="M537.0,372.0 C537.3,376.7 538.5,390.3 539.0,400.0 C539.5,409.7 539.8,420.7 540.0,430.0 C540.2,439.3 540.0,451.7 540.0,456.0" fill="none" stroke="#0080ff" stroke-width="8" stroke-linecap="round" stroke-linejoin="round" filter="url(#b2_5)"/>
<path d="M548.0,380.0 C548.2,385.0 549.0,399.2 549.0,410.0 C549.0,420.8 548.2,439.2 548.0,445.0" fill="none" stroke="#0062ff" stroke-width="5" stroke-linecap="round" stroke-linejoin="round" filter="url(#b2_5)" opacity="0.8"/>
<path d="M500.0,459.0 C503.3,459.0 512.5,459.0 520.0,459.0 C527.5,459.0 536.7,458.9 545.0,459.0 C553.3,459.1 560.8,459.5 570.0,459.5 C579.2,459.5 588.3,459.1 600.0,459.0 C611.7,458.9 633.3,459.0 640.0,459.0" fill="none" stroke="#0080ff" stroke-width="6" stroke-linecap="round" stroke-linejoin="round" filter="url(#b2)"/>
<path d="M502.0,460.0 C505.3,460.0 518.7,460.0 522.0,460.0" fill="none" stroke="#00d0ff" stroke-width="3" stroke-linecap="round" stroke-linejoin="round" filter="url(#b1_5)"/>
<path d="M467.0,378.0 C469.2,378.1 476.2,378.2 480.0,378.5 C483.8,378.8 486.7,380.0 490.0,380.0 C493.3,380.0 496.7,378.7 500.0,378.5 C503.3,378.3 506.7,379.4 510.0,379.0 C513.3,378.6 516.7,376.8 520.0,376.0 C523.3,375.2 525.8,374.7 530.0,374.0 C534.2,373.3 540.0,372.3 545.0,372.0 C550.0,371.7 554.2,372.2 560.0,372.0 C565.8,371.8 576.7,371.2 580.0,371.0" fill="none" stroke="#1000aa" stroke-width="5" stroke-linecap="round" stroke-linejoin="round" filter="url(#b2)" opacity="0.55"/>
<path d="M470.0,374.0 C470.1,376.0 470.4,384.0 470.5,386.0" fill="none" stroke="#1000aa" stroke-width="2.5" stroke-linecap="round" stroke-linejoin="round" filter="url(#b1_5)" opacity="0.5"/>
<path d="M478.0,374.0 C478.1,376.0 478.4,384.0 478.5,386.0" fill="none" stroke="#1000aa" stroke-width="2.5" stroke-linecap="round" stroke-linejoin="round" filter="url(#b1_5)" opacity="0.5"/>
<path d="M486.0,374.0 C486.1,376.0 486.4,384.0 486.5,386.0" fill="none" stroke="#1000aa" stroke-width="2.5" stroke-linecap="round" stroke-linejoin="round" filter="url(#b1_5)" opacity="0.5"/>
<path d="M508.0,374.0 C508.1,376.0 508.4,384.0 508.5,386.0" fill="none" stroke="#1000aa" stroke-width="2.5" stroke-linecap="round" stroke-linejoin="round" filter="url(#b1_5)" opacity="0.5"/>
<path d="M515.0,374.0 C515.1,376.0 515.4,384.0 515.5,386.0" fill="none" stroke="#1000aa" stroke-width="2.5" stroke-linecap="round" stroke-linejoin="round" filter="url(#b1_5)" opacity="0.5"/>
<path d="M523.0,374.0 C523.1,376.0 523.4,384.0 523.5,386.0" fill="none" stroke="#1000aa" stroke-width="2.5" stroke-linecap="round" stroke-linejoin="round" filter="url(#b1_5)" opacity="0.5"/>
<path d="M530.0,374.0 C530.1,376.0 530.4,384.0 530.5,386.0" fill="none" stroke="#1000aa" stroke-width="2.5" stroke-linecap="round" stroke-linejoin="round" filter="url(#b1_5)" opacity="0.5"/>
<path d="M595.0,371.7 C597.2,374.5 604.1,382.2 608.3,388.3 C612.5,394.4 616.9,402.2 620.0,408.3 C623.1,414.4 625.3,416.1 626.7,425.0 C628.1,433.9 628.0,455.6 628.3,461.7" fill="none" stroke="#0080ff" stroke-width="12" stroke-linecap="round" stroke-linejoin="round" filter="url(#b3)"/>
<path d="M595.0,371.7 C597.2,374.5 604.1,382.2 608.3,388.3 C612.5,394.4 616.9,402.2 620.0,408.3 C623.1,414.4 625.3,416.1 626.7,425.0 C628.1,433.9 628.0,455.6 628.3,461.7" fill="none" stroke="#00a4ff" stroke-width="7" stroke-linecap="round" stroke-linejoin="round" filter="url(#b2_2)"/>
<path d="M608.3,388.3 C610.2,391.6 616.9,402.2 620.0,408.3 C623.1,414.4 625.3,416.1 626.7,425.0 C628.1,433.9 628.0,455.6 628.3,461.7" fill="none" stroke="#00d0ff" stroke-width="4" stroke-linecap="round" stroke-linejoin="round" filter="url(#b1_5)"/>
<path d="M617.0,402.0 C618.0,404.2 621.3,410.3 623.0,415.0 C624.7,419.7 626.2,425.0 627.0,430.0 C627.8,435.0 627.8,442.5 628.0,445.0" fill="none" stroke="#00ecff" stroke-width="3" stroke-linecap="round" stroke-linejoin="round" filter="url(#b1_2)" opacity="0.8"/>
<path d="M611.7,368.3 C614.5,371.6 624.1,381.4 628.3,388.3 C632.5,395.2 634.5,402.2 636.7,410.0 C638.9,417.8 640.5,427.5 641.7,435.0 C642.9,442.5 643.6,451.7 644.0,455.0" fill="none" stroke="#0080ff" stroke-width="5" stroke-linecap="round" stroke-linejoin="round" filter="url(#b1_5)"/>
<path d="M625.0,368.3 C627.2,371.1 634.1,377.5 638.0,385.0 C641.9,392.5 646.0,405.2 648.3,413.3 C650.6,421.4 651.1,430.0 651.7,433.3" fill="none" stroke="#0080ff" stroke-width="4" stroke-linecap="round" stroke-linejoin="round" filter="url(#b1_5)"/>
<path d="M628.0,433.0 C630.8,433.7 639.7,437.0 645.0,437.0 C650.3,437.0 654.5,433.2 660.0,433.0 C665.5,432.8 675.0,435.5 678.0,436.0" fill="none" stroke="#0080ff" stroke-width="5" stroke-linecap="round" stroke-linejoin="round" filter="url(#b2)"/>
<path d="M730.0,425.0 C732.5,423.8 738.8,419.7 745.0,418.0 C751.2,416.3 763.3,415.5 767.0,415.0" fill="none" stroke="#0080ff" stroke-width="6" stroke-linecap="round" stroke-linejoin="round" filter="url(#b3)" opacity="0.8"/>
<path d="M690.0,372.0 C690.8,370.0 692.5,363.3 695.0,360.0 C697.5,356.7 703.3,353.3 705.0,352.0" fill="none" stroke="#0062ff" stroke-width="6" stroke-linecap="round" stroke-linejoin="round" filter="url(#b2_5)"/>
<path d="M236.0,372.0 C235.9,376.7 235.5,390.7 235.5,400.0 C235.5,409.3 235.9,423.3 236.0,428.0" fill="none" stroke="#0080ff" stroke-width="4" stroke-linecap="round" stroke-linejoin="round" filter="url(#b2)"/>
<path d="M236.0,420.0 C236.0,424.2 235.9,438.0 236.0,445.0 C236.1,452.0 236.4,459.2 236.5,462.0" fill="none" stroke="#00d0ff" stroke-width="3" stroke-linecap="round" stroke-linejoin="round" filter="url(#b1)"/>
<path d="M240.0,364.0 C241.7,363.2 246.0,360.5 250.0,359.5 C254.0,358.5 259.0,357.8 264.0,358.0 C269.0,358.2 277.3,360.5 280.0,361.0" fill="none" stroke="#0080ff" stroke-width="4" stroke-linecap="round" stroke-linejoin="round" filter="url(#b1_5)"/>
<path d="M368.0,460.0 C368.2,457.8 369.0,451.2 369.5,447.0 C370.0,442.8 370.0,438.9 371.0,434.7 C372.0,430.5 373.5,425.4 375.3,421.8 C377.1,418.2 379.2,415.2 382.0,413.0 C384.8,410.8 388.7,409.4 392.0,408.5 C395.3,407.6 398.7,407.3 402.0,407.5 C405.3,407.7 409.0,408.4 412.0,409.5 C415.0,410.6 418.7,413.2 420.0,414.0" fill="none" stroke="#00a4ff" stroke-width="5" stroke-linecap="round" stroke-linejoin="round" filter="url(#b1_8)"/>
<path d="M369.5,447.0 C369.8,444.9 370.0,438.9 371.0,434.7 C372.0,430.5 373.5,425.4 375.3,421.8 C377.1,418.2 379.2,415.2 382.0,413.0 C384.8,410.8 388.7,409.4 392.0,408.5 C395.3,407.6 400.3,407.7 402.0,407.5" fill="none" stroke="#00d0ff" stroke-width="2" stroke-linecap="round" stroke-linejoin="round" filter="url(#b1)"/>
<path d="M390.0,404.0 C391.8,402.7 398.2,402.8 402.0,403.0 C405.8,403.2 411.0,403.5 413.0,405.0 C415.0,406.5 415.8,410.7 414.0,412.0 C412.2,413.3 405.8,413.2 402.0,413.0 C398.2,412.8 393.0,412.5 391.0,411.0 C389.0,409.5 388.2,405.3 390.0,404.0Z" fill="#00d0ff" filter="url(#b2)"/>
<path d="M498.0,448.0 C498.1,450.3 498.4,459.7 498.5,462.0" fill="none" stroke="#00ffd8" stroke-width="4" stroke-linecap="round" stroke-linejoin="round" filter="url(#b1_5)"/>
<path d="M521.0,412.0 C521.5,415.0 523.3,423.7 524.0,430.0 C524.7,436.3 524.8,444.7 525.0,450.0 C525.2,455.3 525.0,460.0 525.0,462.0" fill="none" stroke="#00d0ff" stroke-width="2.5" stroke-linecap="round" stroke-linejoin="round" filter="url(#b1_2)"/>
<path d="M647.0,366.0 C647.8,367.8 650.1,373.0 652.0,377.0 C653.9,381.0 655.8,385.3 658.3,390.0 C660.8,394.7 664.5,399.7 666.7,405.0 C668.9,410.3 670.7,417.5 671.7,421.7 C672.8,425.9 672.8,428.6 673.0,430.0" fill="none" stroke="#00a4ff" stroke-width="7" stroke-linecap="round" stroke-linejoin="round" filter="url(#b1_5)"/>
<path d="M652.0,377.0 C653.0,379.2 655.8,385.3 658.3,390.0 C660.8,394.7 664.5,399.7 666.7,405.0 C668.9,410.3 670.9,418.9 671.7,421.7" fill="none" stroke="#00ecff" stroke-width="3" stroke-linecap="round" stroke-linejoin="round" filter="url(#b1)"/>
<path d="M600.0,385.0 C601.0,387.5 604.3,394.2 606.0,400.0 C607.7,405.8 609.3,416.7 610.0,420.0" fill="none" stroke="#0080ff" stroke-width="8" stroke-linecap="round" stroke-linejoin="round" filter="url(#b3)" opacity="0.8"/>
<path d="M702.8,357.0 C704.3,359.8 709.1,368.7 712.0,374.0 C714.9,379.3 717.3,383.8 720.0,389.0 C722.7,394.2 725.2,399.7 728.0,405.0 C730.8,410.3 734.1,415.1 737.0,421.0 C739.9,426.9 743.6,435.8 745.6,440.6 C747.6,445.4 748.4,448.4 749.0,450.0" fill="none" stroke="#0080ff" stroke-width="13" stroke-linecap="round" stroke-linejoin="round" filter="url(#b3)"/>
<path d="M702.8,357.0 C704.3,359.8 709.1,368.7 712.0,374.0 C714.9,379.3 717.3,383.8 720.0,389.0 C722.7,394.2 725.2,399.7 728.0,405.0 C730.8,410.3 734.1,415.1 737.0,421.0 C739.9,426.9 744.2,437.3 745.6,440.6" fill="none" stroke="#00a4ff" stroke-width="7" stroke-linecap="round" stroke-linejoin="round" filter="url(#b2_2)"/>
<path d="M712.0,374.0 C713.3,376.5 717.3,383.8 720.0,389.0 C722.7,394.2 725.2,399.7 728.0,405.0 C730.8,410.3 734.1,415.1 737.0,421.0 C739.9,426.9 744.2,437.3 745.6,440.6" fill="none" stroke="#00d0ff" stroke-width="3" stroke-linecap="round" stroke-linejoin="round" filter="url(#b1_5)"/>
<path d="M668.0,455.0 C670.3,453.3 675.7,452.2 680.0,452.0 C684.3,451.8 691.2,452.3 694.0,454.0 C696.8,455.7 701.7,460.7 697.0,462.0 C692.3,463.3 670.8,463.2 666.0,462.0 C661.2,460.8 665.7,456.7 668.0,455.0Z" fill="#00a4ff" filter="url(#b2)"/>
<path d="M674.0,457.0 C675.7,455.8 681.0,455.0 684.0,455.0 C687.0,455.0 690.7,455.8 692.0,457.0 C693.3,458.2 695.0,461.2 692.0,462.0 C689.0,462.8 677.0,462.8 674.0,462.0 C671.0,461.2 672.3,458.2 674.0,457.0Z" fill="#00ffd8" filter="url(#b1_5)" opacity="0.8"/>
<path d="M137.0,372.0 C138.8,369.0 145.2,371.0 148.0,372.0 C150.8,373.0 153.7,375.3 154.0,378.0 C154.3,380.7 151.8,385.7 150.0,388.0 C148.2,390.3 145.2,391.7 143.0,392.0 C140.8,392.3 138.0,393.3 137.0,390.0 C136.0,386.7 135.2,375.0 137.0,372.0Z" fill="#7f00a6" filter="url(#b1_5)" opacity="0.85"/>
<path d="M156.0,388.0 C156.8,386.7 161.5,386.2 163.0,387.0 C164.5,387.8 165.8,391.7 165.0,393.0 C164.2,394.3 159.5,395.8 158.0,395.0 C156.5,394.2 155.2,389.3 156.0,388.0Z" fill="#7f00a6" filter="url(#b1_2)" opacity="0.8"/>
<path d="M178.0,384.0 C179.2,382.3 184.8,381.3 187.0,382.0 C189.2,382.7 191.0,386.2 191.0,388.0 C191.0,389.8 188.8,392.3 187.0,393.0 C185.2,393.7 181.5,393.5 180.0,392.0 C178.5,390.5 176.8,385.7 178.0,384.0Z" fill="#7f00a6" filter="url(#b1_5)" opacity="0.8"/>
<path d="M200.0,376.0 C200.7,373.5 204.5,373.8 206.0,375.0 C207.5,376.2 208.7,380.2 209.0,383.0 C209.3,385.8 209.2,390.8 208.0,392.0 C206.8,393.2 203.3,392.7 202.0,390.0 C200.7,387.3 199.3,378.5 200.0,376.0Z" fill="#7f00a6" filter="url(#b1_2)" opacity="0.8"/>
<path d="M378.0,392.0 C379.2,390.7 383.2,389.8 386.0,389.0 C388.8,388.2 393.7,386.5 395.0,387.0 C396.3,387.5 395.7,390.5 394.0,392.0 C392.3,393.5 387.5,395.2 385.0,396.0 C382.5,396.8 380.2,397.7 379.0,397.0 C377.8,396.3 376.8,393.3 378.0,392.0Z" fill="#7f00a6" filter="url(#b1_2)" opacity="0.85"/>
<path d="M450.0,445.0 C451.3,444.0 455.3,443.8 458.0,444.0 C460.7,444.2 464.8,445.0 466.0,446.0 C467.2,447.0 467.7,449.3 465.0,450.0 C462.3,450.7 452.5,450.8 450.0,450.0 C447.5,449.2 448.7,446.0 450.0,445.0Z" fill="#7f00a6" filter="url(#b1_2)" opacity="0.7"/>
<ellipse cx="481" cy="407" rx="3" ry="3" fill="#7f00a6" filter="url(#b1_5)" opacity="0.5"/>
</g>
<path d="M453.6,368.0 C451.3,368.3 452.1,366.9 450.9,368.0 C449.7,369.1 447.5,372.4 446.3,374.4 C445.1,376.4 444.6,378.9 443.5,380.0 C442.4,381.1 441.4,381.4 439.9,380.9 C438.4,380.4 436.1,378.7 434.4,377.2 C432.7,375.7 430.9,373.4 429.8,371.7 C428.7,370.0 427.9,368.4 428.0,367.0 C428.1,365.6 429.2,365.4 430.7,363.4 C432.2,361.4 435.2,357.4 437.0,355.0 C438.8,352.6 439.9,350.5 441.7,348.8 C443.5,347.1 446.2,346.1 448.0,345.0 C449.8,343.9 451.3,342.4 452.7,342.3 C454.1,342.2 455.5,343.0 456.4,344.2 C457.3,345.4 457.0,348.2 458.2,349.7 C459.4,351.2 461.9,351.9 463.7,353.3 C465.5,354.7 467.7,356.5 469.2,358.0 C470.7,359.5 472.9,361.1 472.9,362.5 C472.9,363.9 470.6,365.6 469.2,366.2 C467.8,366.8 467.2,365.9 464.6,366.2 C462.0,366.5 455.9,367.7 453.6,368.0Z" fill="#0062ff" filter="url(#b1_2)"/>
<path d="M430.0,372.0 C431.2,373.0 435.0,376.8 437.0,378.0 C439.0,379.2 441.2,378.8 442.0,379.0" fill="none" stroke="#00a4ff" stroke-width="3" stroke-linecap="round" stroke-linejoin="round" filter="url(#b1)"/>
<path d="M441.0,350.0 C442.2,349.3 446.0,347.0 448.0,346.0 C450.0,345.0 452.2,344.3 453.0,344.0" fill="none" stroke="#0080ff" stroke-width="3" stroke-linecap="round" stroke-linejoin="round" filter="url(#b1)"/>
<path d="M458.0,351.0 C459.2,351.7 463.0,353.3 465.0,355.0 C467.0,356.7 469.2,360.0 470.0,361.0" fill="none" stroke="#00a4ff" stroke-width="3" stroke-linecap="round" stroke-linejoin="round" filter="url(#b1)"/>
<ellipse cx="451" cy="358" rx="3" ry="2" fill="#7f00a6" filter="url(#b1_2)" opacity="0.6"/>
<ellipse cx="437" cy="374" rx="3" ry="2" fill="#7f00a6" filter="url(#b1_2)" opacity="0.6"/>
<path d="M458.0,364.0 C458.1,366.7 458.5,374.0 458.5,380.0 C458.5,386.0 458.2,393.7 458.0,400.0 C457.8,406.3 457.3,413.0 457.0,418.0 C456.7,423.0 456.3,426.3 456.0,430.0 C455.7,433.7 455.2,438.3 455.0,440.0" fill="none" stroke="#0080ff" stroke-width="11" stroke-linecap="round" stroke-linejoin="round" filter="url(#b2)"/>
<path d="M458.0,364.0 C458.1,366.7 458.5,374.0 458.5,380.0 C458.5,386.0 458.2,393.7 458.0,400.0 C457.8,406.3 457.3,413.0 457.0,418.0 C456.7,423.0 456.3,426.3 456.0,430.0 C455.7,433.7 455.2,438.3 455.0,440.0" fill="none" stroke="#00a4ff" stroke-width="7" stroke-linecap="round" stroke-linejoin="round" filter="url(#b1_5)"/>
<path d="M458.0,364.0 C458.1,366.7 458.5,374.0 458.5,380.0 C458.5,386.0 458.2,393.7 458.0,400.0 C457.8,406.3 457.3,413.0 457.0,418.0 C456.7,423.0 456.2,428.0 456.0,430.0" fill="none" stroke="#00d0ff" stroke-width="4" stroke-linecap="round" stroke-linejoin="round" filter="url(#b1)"/>
<ellipse cx="457" cy="368" rx="3" ry="4" fill="#00ecff" filter="url(#b1_5)"/>
<ellipse cx="456.5" cy="418" rx="3" ry="4" fill="#00ecff" filter="url(#b1_5)"/>
<path d="M406.0,356.0 C407.5,355.0 411.3,353.4 415.0,353.0 C418.7,352.6 424.3,353.0 428.0,353.5 C431.7,354.0 435.5,354.6 437.0,356.0 C438.5,357.4 439.0,360.8 437.0,362.0 C435.0,363.2 429.2,362.9 425.0,363.0 C420.8,363.1 415.2,363.2 412.0,362.5 C408.8,361.8 407.0,360.1 406.0,359.0 C405.0,357.9 404.5,357.0 406.0,356.0Z" fill="#0010d4" filter="url(#b1_5)"/>
<path d="M412.0,356.5 C413.0,355.6 417.7,355.4 420.0,355.5 C422.3,355.6 425.3,356.1 426.0,357.0 C426.7,357.9 426.0,360.3 424.0,361.0 C422.0,361.7 416.0,361.8 414.0,361.0 C412.0,360.2 411.0,357.4 412.0,356.5Z" fill="#0080ff" filter="url(#b1_2)"/>
<path d="M418.0,348.0 C418.7,346.9 422.1,346.6 424.0,346.6 C425.9,346.6 428.9,346.9 429.6,348.0 C430.3,349.1 429.6,352.2 428.0,353.0 C426.4,353.8 421.7,353.8 420.0,353.0 C418.3,352.2 417.3,349.1 418.0,348.0Z" fill="#0010d4" filter="url(#b1_2)"/>
<ellipse cx="423.5" cy="349.8" rx="3" ry="1.5" fill="#0080ff" filter="url(#b1)"/>
<path d="M385.5,349.0 C386.3,347.8 388.8,345.5 391.0,345.0 C393.2,344.5 397.5,344.8 398.7,346.0 C399.9,347.2 399.4,350.7 398.0,352.0 C396.6,353.3 392.0,353.6 390.0,353.6 C388.0,353.6 386.8,352.8 386.0,352.0 C385.2,351.2 384.7,350.2 385.5,349.0Z" fill="#1000aa" filter="url(#b1_2)"/>
<ellipse cx="391" cy="349" rx="3" ry="2.5" fill="#0010d4" filter="url(#b1)"/>
<ellipse cx="395" cy="363.5" rx="2" ry="1.8" fill="#1000aa" filter="url(#b0_8)"/>
<ellipse cx="399.5" cy="362.5" rx="1.5" ry="2.5" fill="#1000aa" filter="url(#b0_8)"/>
<ellipse cx="495" cy="356.5" rx="2.7" ry="3" fill="#0010d4" filter="url(#b1)"/>
<path d="M506.5,351.0 C507.2,349.7 509.8,348.3 512.0,348.0 C514.2,347.7 517.7,348.3 520.0,349.0 C522.3,349.7 525.3,350.7 526.0,352.0 C526.7,353.3 525.8,355.9 524.0,357.0 C522.2,358.1 517.7,358.8 515.0,358.6 C512.3,358.4 509.4,357.3 508.0,356.0 C506.6,354.7 505.8,352.3 506.5,351.0Z" fill="#0010d4" filter="url(#b1_2)"/>
<ellipse cx="516" cy="353" rx="4" ry="2" fill="#0080ff" filter="url(#b1)"/>
<path d="M520.7,359.0 C521.4,358.4 524.2,358.5 526.0,358.6 C527.8,358.7 530.6,358.9 531.3,359.5 C532.0,360.1 531.5,361.6 530.0,362.0 C528.5,362.4 523.5,362.5 522.0,362.0 C520.5,361.5 520.0,359.6 520.7,359.0Z" fill="#0010d4" filter="url(#b1)"/>
<ellipse cx="535" cy="354.5" rx="1.8" ry="1.8" fill="#1000aa" filter="url(#b0_8)"/>
<ellipse cx="550" cy="364" rx="2" ry="2" fill="#1000aa" filter="url(#b0_8)"/>
<ellipse cx="585" cy="357.5" rx="7" ry="1.8" fill="#1000aa" filter="url(#b1)"/>
<ellipse cx="634" cy="357.5" rx="4" ry="4" fill="#1000aa" filter="url(#b1)"/>
<ellipse cx="657.8" cy="335.4" rx="2.2" ry="4" fill="#1000aa" filter="url(#b1)" transform="rotate(-30 657.8 335.4)"/>
<path d="M659.0,344.0 C659.9,342.0 662.4,341.8 664.0,342.0 C665.6,342.2 668.3,343.3 668.6,345.0 C668.9,346.7 667.1,350.1 666.0,352.0 C664.9,353.9 663.2,356.1 662.0,356.4 C660.8,356.7 659.1,356.1 658.6,354.0 C658.1,351.9 658.1,346.0 659.0,344.0Z" fill="#0010d4" filter="url(#b1)"/>
<ellipse cx="664.5" cy="346.5" rx="1.5" ry="2.5" fill="#0080ff" filter="url(#b0_8)"/>
<ellipse cx="660.7" cy="366.5" rx="3" ry="3" fill="#1000aa" filter="url(#b1)"/>
<ellipse cx="504.1" cy="306.6" rx="1.6" ry="1.6" fill="#0010d4" filter="url(#b0_6)"/>
<path d="M293.0,353.0 C295.2,354.0 302.0,357.2 306.0,359.0 C310.0,360.8 313.8,361.8 317.0,364.0 C320.2,366.2 322.8,369.0 325.0,372.0 C327.2,375.0 329.2,380.3 330.0,382.0" fill="none" stroke="#0080ff" stroke-width="7" stroke-linecap="round" stroke-linejoin="round" filter="url(#b2)"/>
<path d="M286.0,362.0 C288.2,363.2 295.0,367.0 299.0,369.0 C303.0,371.0 307.2,372.2 310.0,374.0 C312.8,375.8 314.5,377.5 316.0,380.0 C317.5,382.5 317.8,386.3 319.0,389.0 C320.2,391.7 321.5,393.8 323.0,396.0 C324.5,398.2 327.2,401.0 328.0,402.0" fill="none" stroke="#1000aa" stroke-width="3" stroke-linecap="round" stroke-linejoin="round" filter="url(#b1_2)" opacity="0.8"/>
<path d="M289.0,353.4 C291.1,355.1 297.5,361.4 301.5,363.9 C305.5,366.4 309.9,367.0 312.9,368.6 C315.9,370.2 317.8,371.2 319.5,373.3 C321.2,375.4 322.2,378.5 323.3,380.9 C324.4,383.3 325.1,385.3 326.2,387.5 C327.3,389.7 328.4,392.3 330.0,394.2 C331.6,396.1 333.5,398.1 335.7,399.0 C337.9,399.9 340.8,399.9 343.2,399.5 C345.6,399.1 348.9,397.0 350.0,396.5" fill="none" stroke="#00a4ff" stroke-width="8" stroke-linecap="round" stroke-linejoin="round" filter="url(#b1_5)"/>
<path d="M289.0,353.4 C291.1,355.1 297.5,361.4 301.5,363.9 C305.5,366.4 309.9,367.0 312.9,368.6 C315.9,370.2 317.8,371.2 319.5,373.3 C321.2,375.4 322.2,378.5 323.3,380.9 C324.4,383.3 325.1,385.3 326.2,387.5 C327.3,389.7 328.4,392.3 330.0,394.2 C331.6,396.1 333.5,398.1 335.7,399.0 C337.9,399.9 340.8,399.9 343.2,399.5 C345.6,399.1 348.9,397.0 350.0,396.5" fill="none" stroke="#00ffd8" stroke-width="4.5" stroke-linecap="round" stroke-linejoin="round" filter="url(#b0_8)"/>
<ellipse cx="285.4" cy="351" rx="2.2" ry="1.8" fill="#00d0ff" filter="url(#b0_8)"/>
<g fill="#000"><text x="0" y="0" font-size="6.5" font-weight="bold" transform="translate(292.5,356) rotate(38)">·001</text><text x="0" y="0" font-size="6.5" font-weight="bold" transform="translate(329,391) rotate(65)">00</text><rect x="336" y="399" width="2.5" height="1.2"/><circle cx="460.5" cy="353.5" r="1.1"/><circle cx="463.5" cy="360.5" r="1.1"/><circle cx="441" cy="367" r="1.1"/><path d="M658.5,389.5 l1.5,2 l-1.5,2 l-1.5,-2z" fill="none" stroke="#000" stroke-width="1"/></g>
</g>
</g>
<g fill="#000">
<rect x="135" y="145" width="634" height="2"/>
<rect x="135" y="462" width="634" height="2"/>
<rect x="135" y="145" width="2" height="319"/>
<rect x="767" y="145" width="2" height="319"/>
<rect x="160" y="458" width="1" height="4"/>
<rect x="160" y="147" width="1" height="5"/>
<rect x="184" y="453" width="2" height="9"/>
<rect x="184" y="147" width="2" height="9"/>
<rect x="211" y="458" width="1" height="4"/>
<rect x="211" y="147" width="1" height="5"/>
<rect x="235" y="453" width="2" height="9"/>
<rect x="235" y="147" width="2" height="9"/>
<rect x="262" y="458" width="1" height="4"/>
<rect x="262" y="147" width="1" height="5"/>
<rect x="286" y="453" width="2" height="9"/>
<rect x="286" y="147" width="2" height="9"/>
<rect x="312" y="458" width="1" height="4"/>
<rect x="312" y="147" width="1" height="5"/>
<rect x="337" y="453" width="2" height="9"/>
<rect x="337" y="147" width="2" height="9"/>
<rect x="363" y="458" width="1" height="4"/>
<rect x="363" y="147" width="1" height="5"/>
<rect x="387" y="453" width="2" height="9"/>
<rect x="387" y="147" width="2" height="9"/>
<rect x="414" y="458" width="1" height="4"/>
<rect x="414" y="147" width="1" height="5"/>
<rect x="438" y="453" width="2" height="9"/>
<rect x="438" y="147" width="2" height="9"/>
<rect x="465" y="458" width="1" height="4"/>
<rect x="465" y="147" width="1" height="5"/>
<rect x="489" y="453" width="2" height="9"/>
<rect x="489" y="147" width="2" height="9"/>
<rect x="516" y="458" width="1" height="4"/>
<rect x="516" y="147" width="1" height="5"/>
<rect x="540" y="453" width="2" height="9"/>
<rect x="540" y="147" width="2" height="9"/>
<rect x="566" y="458" width="1" height="4"/>
<rect x="566" y="147" width="1" height="5"/>
<rect x="591" y="453" width="2" height="9"/>
<rect x="591" y="147" width="2" height="9"/>
<rect x="617" y="458" width="1" height="4"/>
<rect x="617" y="147" width="1" height="5"/>
<rect x="641" y="453" width="2" height="9"/>
<rect x="641" y="147" width="2" height="9"/>
<rect x="668" y="458" width="1" height="4"/>
<rect x="668" y="147" width="1" height="5"/>
<rect x="692" y="453" width="2" height="9"/>
<rect x="692" y="147" width="2" height="9"/>
<rect x="719" y="458" width="1" height="4"/>
<rect x="719" y="147" width="1" height="5"/>
<rect x="743" y="453" width="2" height="9"/>
<rect x="743" y="147" width="2" height="9"/>
<rect x="137" y="448" width="4" height="1"/>
<rect x="764" y="448" width="3" height="1"/>
<rect x="137" y="432" width="4" height="1"/>
<rect x="764" y="432" width="3" height="1"/>
<rect x="137" y="416" width="4" height="1"/>
<rect x="764" y="416" width="3" height="1"/>
<rect x="137" y="400" width="4" height="1"/>
<rect x="764" y="400" width="3" height="1"/>
<rect x="137" y="383" width="8" height="2"/>
<rect x="759" y="383" width="8" height="2"/>
<rect x="137" y="368" width="4" height="1"/>
<rect x="764" y="368" width="3" height="1"/>
<rect x="137" y="352" width="4" height="1"/>
<rect x="764" y="352" width="3" height="1"/>
<rect x="137" y="336" width="4" height="1"/>
<rect x="764" y="336" width="3" height="1"/>
<rect x="137" y="320" width="4" height="1"/>
<rect x="764" y="320" width="3" height="1"/>
<rect x="137" y="304" width="8" height="2"/>
<rect x="759" y="304" width="8" height="2"/>
<rect x="137" y="289" width="4" height="1"/>
<rect x="764" y="289" width="3" height="1"/>
<rect x="137" y="273" width="4" height="1"/>
<rect x="764" y="273" width="3" height="1"/>
<rect x="137" y="257" width="4" height="1"/>
<rect x="764" y="257" width="3" height="1"/>
<rect x="137" y="241" width="4" height="1"/>
<rect x="764" y="241" width="3" height="1"/>
<rect x="137" y="224" width="8" height="2"/>
<rect x="759" y="224" width="8" height="2"/>
<rect x="137" y="209" width="4" height="1"/>
<rect x="764" y="209" width="3" height="1"/>
<rect x="137" y="193" width="4" height="1"/>
<rect x="764" y="193" width="3" height="1"/>
<rect x="137" y="177" width="4" height="1"/>
<rect x="764" y="177" width="3" height="1"/>
<rect x="137" y="161" width="4" height="1"/>
<rect x="764" y="161" width="3" height="1"/>
</g>
<defs>
<linearGradient id="cg0" x1="0" y1="0" x2="0" y2="1"><stop offset="0" stop-color="#5400b4"/><stop offset="1" stop-color="#8a00c0"/></linearGradient>
<linearGradient id="cg1" x1="0" y1="0" x2="0" y2="1"><stop offset="0" stop-color="#0810a0"/><stop offset="1" stop-color="#3400aa"/></linearGradient>
<linearGradient id="cg2" x1="0" y1="0" x2="0" y2="1"><stop offset="0" stop-color="#0000d8"/><stop offset="1" stop-color="#0000c4"/></linearGradient>
<linearGradient id="cg3" x1="0" y1="0" x2="0" y2="1"><stop offset="0" stop-color="#0018ff"/><stop offset="1" stop-color="#0000f0"/></linearGradient>
<linearGradient id="cg4" x1="0" y1="0" x2="0" y2="1"><stop offset="0" stop-color="#0058ff"/><stop offset="1" stop-color="#0044ff"/></linearGradient>
<linearGradient id="cg5" x1="0" y1="0" x2="0" y2="1"><stop offset="0" stop-color="#0090ff"/><stop offset="1" stop-color="#007cff"/></linearGradient>
<linearGradient id="cg6" x1="0" y1="0" x2="0" y2="1"><stop offset="0" stop-color="#00bcff"/><stop offset="1" stop-color="#00a8ff"/></linearGradient>
<linearGradient id="cg7" x1="0" y1="0" x2="0" y2="1"><stop offset="0" stop-color="#00e8ff"/><stop offset="1" stop-color="#00d4ff"/></linearGradient>
<linearGradient id="cg8" x1="0" y1="0" x2="0" y2="1"><stop offset="0" stop-color="#00ffd8"/><stop offset="1" stop-color="#00f4ee"/></linearGradient>
<linearGradient id="cg9" x1="0" y1="0" x2="0" y2="1"><stop offset="0" stop-color="#00ffa4"/><stop offset="1" stop-color="#00ffbc"/></linearGradient>
<linearGradient id="cg10" x1="0" y1="0" x2="0" y2="1"><stop offset="0" stop-color="#00ff70"/><stop offset="1" stop-color="#00ff88"/></linearGradient>
<linearGradient id="cg11" x1="0" y1="0" x2="0" y2="1"><stop offset="0" stop-color="#00ff38"/><stop offset="1" stop-color="#00ff50"/></linearGradient>
<linearGradient id="cg12" x1="0" y1="0" x2="0" y2="1"><stop offset="0" stop-color="#00ff00"/><stop offset="1" stop-color="#00ff20"/></linearGradient>
<linearGradient id="cg13" x1="0" y1="0" x2="0" y2="1"><stop offset="0" stop-color="#40ff00"/><stop offset="1" stop-color="#20ff00"/></linearGradient>
<linearGradient id="cg14" x1="0" y1="0" x2="0" y2="1"><stop offset="0" stop-color="#80ff00"/><stop offset="1" stop-color="#60ff00"/></linearGradient>
<linearGradient id="cg15" x1="0" y1="0" x2="0" y2="1"><stop offset="0" stop-color="#b8ff00"/><stop offset="1" stop-color="#a0ff00"/></linearGradient>
<linearGradient id="cg16" x1="0" y1="0" x2="0" y2="1"><stop offset="0" stop-color="#e8ff00"/><stop offset="1" stop-color="#d0ff00"/></linearGradient>
<linearGradient id="cg17" x1="0" y1="0" x2="0" y2="1"><stop offset="0" stop-color="#ffe400"/><stop offset="1" stop-color="#fff800"/></linearGradient>
<linearGradient id="cg18" x1="0" y1="0" x2="0" y2="1"><stop offset="0" stop-color="#ffb000"/><stop offset="1" stop-color="#ffc400"/></linearGradient>
<linearGradient id="cg19" x1="0" y1="0" x2="0" y2="1"><stop offset="0" stop-color="#ff8000"/><stop offset="1" stop-color="#ff9400"/></linearGradient>
<linearGradient id="cg20" x1="0" y1="0" x2="0" y2="1"><stop offset="0" stop-color="#ff4c00"/><stop offset="1" stop-color="#ff5c00"/></linearGradient>
<linearGradient id="cg21" x1="0" y1="0" x2="0" y2="1"><stop offset="0" stop-color="#ff1000"/><stop offset="1" stop-color="#ff2800"/></linearGradient>
<linearGradient id="cg22" x1="0" y1="0" x2="0" y2="1"><stop offset="0" stop-color="#ff2a2a"/><stop offset="1" stop-color="#ff0000"/></linearGradient>
<linearGradient id="cg23" x1="0" y1="0" x2="0" y2="1"><stop offset="0" stop-color="#ff5c5c"/><stop offset="1" stop-color="#ff3c3c"/></linearGradient>
<linearGradient id="cg24" x1="0" y1="0" x2="0" y2="1"><stop offset="0" stop-color="#ff8c8c"/><stop offset="1" stop-color="#ff7070"/></linearGradient>
</defs>
<rect x="783" y="191" width="20" height="273" fill="#000"/>
<rect x="785" y="193" width="16" height="8" fill="url(#cg24)"/>
<rect x="785" y="203" width="16" height="9" fill="url(#cg23)"/>
<rect x="785" y="214" width="16" height="9" fill="url(#cg22)"/>
<rect x="785" y="225" width="16" height="9" fill="url(#cg21)"/>
<rect x="785" y="236" width="16" height="9" fill="url(#cg20)"/>
<rect x="785" y="247" width="16" height="9" fill="url(#cg19)"/>
<rect x="785" y="258" width="16" height="8" fill="url(#cg18)"/>
<rect x="785" y="268" width="16" height="9" fill="url(#cg17)"/>
<rect x="785" y="279" width="16" height="9" fill="url(#cg16)"/>
<rect x="785" y="290" width="16" height="9" fill="url(#cg15)"/>
<rect x="785" y="301" width="16" height="9" fill="url(#cg14)"/>
<rect x="785" y="312" width="16" height="9" fill="url(#cg13)"/>
<rect x="785" y="323" width="16" height="8" fill="url(#cg12)"/>
<rect x="785" y="333" width="16" height="9" fill="url(#cg11)"/>
<rect x="785" y="344" width="16" height="9" fill="url(#cg10)"/>
<rect x="785" y="355" width="16" height="9" fill="url(#cg9)"/>
<rect x="785" y="366" width="16" height="9" fill="url(#cg8)"/>
<rect x="785" y="377" width="16" height="9" fill="url(#cg7)"/>
<rect x="785" y="388" width="16" height="8" fill="url(#cg6)"/>
<rect x="785" y="398" width="16" height="9" fill="url(#cg5)"/>
<rect x="785" y="409" width="16" height="9" fill="url(#cg4)"/>
<rect x="785" y="420" width="16" height="9" fill="url(#cg3)"/>
<rect x="785" y="431" width="16" height="9" fill="url(#cg2)"/>
<rect x="785" y="442" width="16" height="9" fill="url(#cg1)"/>
<rect x="785" y="453" width="16" height="9" fill="url(#cg0)"/>
<text x="810.5" y="196.80" font-size="16" font-weight="bold" textLength="44" lengthAdjust="spacing">250.0</text>
<text x="810.5" y="210.35" font-size="16" font-weight="bold" textLength="44" lengthAdjust="spacing">237.5</text>
<text x="810.5" y="223.90" font-size="16" font-weight="bold" textLength="44" lengthAdjust="spacing">225.0</text>
<text x="810.5" y="237.45" font-size="16" font-weight="bold" textLength="44" lengthAdjust="spacing">212.5</text>
<text x="810.5" y="251.00" font-size="16" font-weight="bold" textLength="44" lengthAdjust="spacing">200.0</text>
<text x="810.5" y="264.55" font-size="16" font-weight="bold" textLength="44" lengthAdjust="spacing">187.5</text>
<text x="810.5" y="278.10" font-size="16" font-weight="bold" textLength="44" lengthAdjust="spacing">175.0</text>
<text x="810.5" y="291.65" font-size="16" font-weight="bold" textLength="44" lengthAdjust="spacing">162.5</text>
<text x="810.5" y="305.20" font-size="16" font-weight="bold" textLength="44" lengthAdjust="spacing">150.0</text>
<text x="810.5" y="318.75" font-size="16" font-weight="bold" textLength="44" lengthAdjust="spacing">137.5</text>
<text x="810.5" y="332.30" font-size="16" font-weight="bold" textLength="44" lengthAdjust="spacing">125.0</text>
<text x="810.5" y="345.85" font-size="16" font-weight="bold" textLength="44" lengthAdjust="spacing">112.5</text>
<text x="810.5" y="359.40" font-size="16" font-weight="bold" textLength="44" lengthAdjust="spacing">100.0</text>
<text x="810.5" y="372.95" font-size="16" font-weight="bold" textLength="34.5" lengthAdjust="spacing">87.5</text>
<text x="810.5" y="386.50" font-size="16" font-weight="bold" textLength="34.5" lengthAdjust="spacing">75.0</text>
<text x="810.5" y="400.05" font-size="16" font-weight="bold" textLength="34.5" lengthAdjust="spacing">62.5</text>
<text x="810.5" y="413.60" font-size="16" font-weight="bold" textLength="34.5" lengthAdjust="spacing">50.0</text>
<text x="810.5" y="427.15" font-size="16" font-weight="bold" textLength="34.5" lengthAdjust="spacing">37.5</text>
<text x="810.5" y="440.70" font-size="16" font-weight="bold" textLength="34.5" lengthAdjust="spacing">25.0</text>
<text x="810.5" y="454.25" font-size="16" font-weight="bold" textLength="34.5" lengthAdjust="spacing">12.5</text>
<text x="810.5" y="467.80" font-size="16" font-weight="bold" textLength="24" lengthAdjust="spacing">0.0</text>
<text class="th" x="237.5" y="102" font-size="28" textLength="128" lengthAdjust="spacing">turbulent</text>
<text class="th" x="381" y="102" font-size="28" textLength="122" lengthAdjust="spacing">diffusion</text>
<text class="th" x="518" y="102" font-size="28" textLength="149" lengthAdjust="spacing">coefficient</text>
<text x="126.5" y="231" font-size="19.6" text-anchor="end">15</text>
<text x="126.5" y="311" font-size="19.6" text-anchor="end">10</text>
<text x="126.5" y="390" font-size="19.6" text-anchor="end">5</text>
<text x="185.8" y="485" font-size="19.6" text-anchor="middle">4</text>
<text x="236.6" y="485" font-size="19.6" text-anchor="middle">8</text>
<text x="287.4" y="485" font-size="19.6" text-anchor="middle">12</text>
<text x="338.2" y="485" font-size="19.6" text-anchor="middle">16</text>
<text x="389.0" y="485" font-size="19.6" text-anchor="middle">20</text>
<text x="439.8" y="485" font-size="19.6" text-anchor="middle">24</text>
<text x="490.6" y="485" font-size="19.6" text-anchor="middle">28</text>
<text x="541.4" y="485" font-size="19.6" text-anchor="middle">32</text>
<text x="592.2" y="485" font-size="19.6" text-anchor="middle">36</text>
<text x="643.0" y="485" font-size="19.6" text-anchor="middle">40</text>
<text x="693.8" y="485" font-size="19.6" text-anchor="middle">44</text>
<text x="744.6" y="485" font-size="19.6" text-anchor="middle">48</text>
<text x="48" y="496" font-size="18.2" textLength="95" lengthAdjust="spacing">(×1000 m)</text>
<text x="685" y="507" font-size="18.2" textLength="95" lengthAdjust="spacing">(×1000 m)</text>
<text class="th" x="375.5" y="536.5" font-size="24.5" textLength="154" lengthAdjust="spacing">X−coordinate</text>
<text class="th" transform="translate(91,380.5) rotate(-90)" x="0" y="0" font-size="24.5" textLength="152.5" lengthAdjust="spacing">Z−coordinate</text>
<text x="304" y="582.6" font-size="18.6" textLength="80.5" lengthAdjust="spacingAndGlyphs">CONTOUR</text>
<text x="393.6" y="582.6" font-size="18.6" textLength="78" lengthAdjust="spacingAndGlyphs">INTERVAL</text>
<text x="480.5" y="582.6" font-size="18.6" textLength="13.5" lengthAdjust="spacingAndGlyphs">=</text>
<text x="503" y="582.6" font-size="18.6" textLength="97.5" lengthAdjust="spacing">1.000E+02</text>
<text x="634" y="609" font-size="16.8" textLength="87" lengthAdjust="spacing">t=72000 s</text>
<text x="22" y="652" font-size="9.8" textLength="65.5" lengthAdjust="spacing">./gpview−new</text>
<text x="96.5" y="652" font-size="9.8" textLength="62.5" lengthAdjust="spacing">2011−05−11</text>
<text x="602" y="651.5" font-size="9.8" textLength="265" lengthAdjust="spacing">MarsCond_Km.nc@Km,x=0:500000,z=0:25000,t=72000</text>
</svg></body></html>
